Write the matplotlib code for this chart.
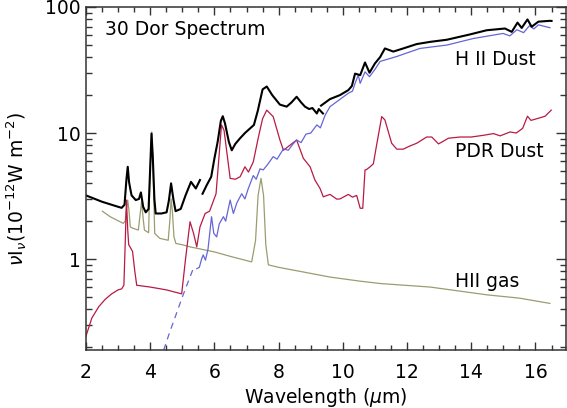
import matplotlib
matplotlib.use("Agg")
import matplotlib.pyplot as plt
from matplotlib.ticker import FixedLocator, LogLocator, MultipleLocator, NullFormatter

# Total spectrum (black), drawn in three pieces (spectral orders)
tot1_x = [2.0, 2.5, 3.0, 3.11, 3.2, 3.26, 3.30, 3.34, 3.38, 3.42, 3.55, 3.65, 3.71, 3.78,
          3.86, 3.95, 3.99, 4.04, 4.08, 4.13, 4.17, 4.35, 4.51, 4.58, 4.65, 4.72, 4.79,
          4.95, 5.1, 5.27, 5.42, 5.55]
tot1_y = [3.2, 2.85, 2.6, 2.55, 2.7, 4.3, 5.4, 4.1, 3.6, 3.2, 2.94, 3.0, 3.38, 2.6,
          2.35, 2.5, 4.6, 9.9, 6.5, 3.0, 2.3, 2.3, 2.35, 2.9, 3.99, 3.0, 2.4,
          2.5, 3.2, 4.1, 3.63, 4.24]
tot2_x = [5.63, 5.76, 5.9, 6.0, 6.1, 6.20, 6.26, 6.33, 6.45, 6.54, 6.65, 6.80, 6.95, 7.06,
          7.23, 7.35, 7.50, 7.63, 7.80, 8.04, 8.25, 8.40, 8.56, 8.70, 8.82, 8.95, 9.05,
          9.19, 9.25, 9.38]
tot2_y = [3.3, 3.86, 4.5, 6.3, 8.5, 12.5, 13.6, 11.9, 8.5, 7.3, 8.2, 9.1, 10.0, 10.6,
          11.6, 15.0, 22.2, 23.4, 20.0, 16.8, 16.2, 17.5, 19.4, 17.5, 16.2, 15.5, 15.8,
          14.3, 15.5, 14.3]
tot3_x = [9.32, 9.6, 9.91, 10.17, 10.28, 10.38, 10.54, 10.69, 10.83, 11.0, 11.16, 11.31,
          11.45, 11.57, 11.88, 12.30, 12.72, 13.24, 13.96, 14.48, 15.05, 15.26, 15.44,
          15.57, 15.75, 15.88, 16.09, 16.45, 16.5]
tot3_y = [16.5, 18.6, 20.0, 21.9, 23.6, 29.6, 28.8, 36.3, 30.1, 35.7, 40.0, 46.9,
          45.5, 44.3, 46.9, 50.8, 52.9, 55.0, 60.6, 65.4, 67.5, 63.5, 75.2,
          68.2, 79.7, 69.7, 76.5, 77.7, 77.5]

# H II dust (blue): dashed extrapolation then measured part
hd_dash_x = [4.42, 4.6, 4.8, 5.0, 5.2, 5.34]
hd_dash_y = [0.19, 0.26, 0.36, 0.50, 0.68, 0.84]
hd_x = [5.45, 5.53, 5.60, 5.65, 5.72, 5.80, 5.91, 5.98, 6.07, 6.15, 6.28, 6.35, 6.49,
        6.59, 6.70, 6.85, 6.95, 7.05, 7.21, 7.30, 7.42, 7.52, 7.65, 7.83, 7.95, 8.15,
        8.30, 8.45, 8.56, 8.70, 8.85, 9.0, 9.19, 9.30, 9.45, 9.6, 9.91, 10.17, 10.30,
        10.38, 10.48, 10.54, 10.69, 10.83, 11.0, 11.16, 11.68, 12.40, 13.24, 14.06,
        14.99, 15.20, 15.42, 15.63, 15.81, 15.95, 16.09, 16.45]
hd_y = [0.84, 0.86, 1.0, 1.08, 0.98, 1.2, 2.17, 1.6, 1.5, 1.9, 2.17, 2.0, 2.94,
        2.3, 2.8, 3.3, 3.0, 3.6, 4.6, 4.3, 5.2, 5.1, 5.6, 6.5, 6.2, 7.5,
        7.3, 8.2, 8.8, 8.4, 9.8, 10.0, 11.6, 11.0, 13.9, 16.2, 18.5, 20.7, 21.5,
        24.8, 28.8, 24.8, 30.6, 28.0, 32.0, 37.0, 40.5, 46.9, 49.9, 56.2,
        61.7, 59.0, 66.0, 62.6, 71.0, 67.0, 72.2, 68.5]

# PDR dust (red)
pdr_x = [2.0, 2.18, 2.4, 2.6, 2.8, 3.0, 3.11, 3.18, 3.22, 3.26, 3.30, 3.33, 3.37, 3.45,
         3.52, 3.58, 4.0, 4.5, 4.98, 5.10, 5.24, 5.35, 5.45, 5.55, 5.71, 5.85, 6.05,
         6.12, 6.22, 6.30, 6.49, 6.65, 6.80, 6.95, 7.06, 7.21, 7.37, 7.50, 7.63, 7.83,
         8.04, 8.15, 8.35, 8.56, 8.77, 8.98, 9.13, 9.29, 9.39, 9.6, 9.81, 9.91, 10.17,
         10.30, 10.43, 10.54, 10.62, 10.69, 10.72, 10.85, 10.95, 11.05, 11.21, 11.31,
         11.52, 11.68, 11.88, 12.09, 12.30, 12.61, 12.77, 12.98, 13.29, 13.65, 14.0,
         14.38, 14.69, 14.9, 15.21, 15.40, 15.6, 15.75, 15.86, 16.09, 16.30, 16.49]
pdr_y = [0.245, 0.34, 0.42, 0.48, 0.53, 0.57, 0.58, 0.62, 1.3, 2.94, 1.7, 1.3, 1.25, 1.15,
         0.8, 0.62, 0.6, 0.57, 0.53, 1.0, 1.98, 1.6, 1.25, 1.8, 2.3, 2.4, 3.3,
         5.5, 11.6, 10.5, 4.37, 4.3, 4.5, 5.4, 4.9, 5.9, 9.3, 13.0, 15.2, 13.5,
         8.8, 7.3, 8.0, 8.8, 6.3, 5.4, 4.24, 3.63, 3.12, 3.26, 2.99, 3.0, 3.26,
         3.1, 3.2, 2.53, 2.53, 5.1, 5.1, 5.4, 5.7, 8.0, 13.5, 12.7,
         8.3, 7.45, 7.45, 7.9, 8.3, 9.3, 9.3, 8.2, 9.1, 9.3, 9.3,
         9.6, 9.9, 9.5, 10.2, 10.0, 10.9, 13.6, 12.6, 13.1, 13.6, 15.2]

# HII gas (olive)
gas_x = [2.51, 2.75, 3.16, 3.22, 3.26, 3.30, 3.34, 3.38, 3.45, 3.63, 3.68, 3.73, 3.78,
         3.82, 3.95, 3.99, 4.05, 4.09, 4.14, 4.30, 4.56, 4.61, 4.65, 4.69, 4.74, 4.80,
         5.0, 5.24, 6.0, 6.5, 7.16, 7.28, 7.36, 7.45, 7.53, 7.60, 7.68, 8.0, 9.0, 9.6,
         10.5, 11.16, 12.72, 14.5, 15.5, 16.45]
gas_y = [2.4, 2.17, 1.92, 2.0, 2.5, 2.94, 2.4, 1.8, 1.76, 1.7, 2.2, 2.85, 2.1,
         1.7, 1.62, 4.5, 10.2, 5.0, 1.6, 1.46, 1.41, 2.0, 3.0, 2.4, 1.5, 1.33,
         1.3, 1.25, 1.14, 1.05, 0.95, 1.4, 3.2, 4.37, 3.2, 1.3, 0.9, 0.86, 0.77, 0.72,
         0.67, 0.64, 0.60, 0.52, 0.49, 0.445]

BLUE = "#6565d8"
RED = "#b81a44"
OLIVE = "#9c9c72"

plt.rcParams["font.family"] = "DejaVu Sans"
plt.rcParams["mathtext.fontset"] = "dejavusans"

fig = plt.figure(figsize=(5.67, 4.08), dpi=100)
ax = fig.add_axes([86 / 567, 1 - 350 / 408, 480 / 567, 343 / 408])

ax.plot(gas_x, gas_y, color=OLIVE, lw=0.9)
ax.plot(pdr_x, pdr_y, color=RED, lw=0.9)
ax.plot(hd_dash_x, hd_dash_y, color=BLUE, lw=0.9, ls=(0, (5, 4)))
ax.plot(hd_x, hd_y, color=BLUE, lw=0.9)
for xs, ys in [(tot1_x, tot1_y), (tot2_x, tot2_y), (tot3_x, tot3_y)]:
    ax.plot(xs, ys, color="black", lw=1.5)

ax.set_yscale("log")
ax.set_xlim(2, 16.95)
ax.set_ylim(0.19, 100)

ax.xaxis.set_major_locator(MultipleLocator(2))
ax.xaxis.set_minor_locator(MultipleLocator(0.5))
ax.yaxis.set_major_locator(FixedLocator([1, 10, 100]))
ax.yaxis.set_minor_locator(LogLocator(base=10, subs=range(2, 10)))
ax.yaxis.set_minor_formatter(NullFormatter())
ax.set_yticklabels(["1", "10", "100"])

ax.tick_params(which="both", direction="in", top=True, right=True,
               labelsize=13.5, color="#333333", width=1.0)
ax.tick_params(axis="x", which="major", length=6, pad=9)
ax.tick_params(axis="x", which="minor", length=3.5)
ax.tick_params(axis="y", which="major", length=7.5, pad=4)
ax.tick_params(axis="y", which="minor", length=4)
for s in ax.spines.values():
    s.set_linewidth(1.1)
    s.set_color("#333333")

ax.set_xlabel(r"Wavelength ($\mu$m)", fontsize=13.5, labelpad=3)
ax.set_ylabel(r"$\nu$I$_\nu$(10$^{-12}$W m$^{-2}$)", fontsize=13.5)
ax.yaxis.set_label_coords(-0.118, 0.47)

ax.text(2.59, 66, "30 Dor Spectrum", fontsize=13.5, ha="left", va="center")
ax.text(13.5, 38, "H II Dust", fontsize=13.5, ha="left", va="center")
ax.text(13.5, 7.2, "PDR Dust", fontsize=13.5, ha="left", va="center")
ax.text(13.5, 0.66, "HII gas", fontsize=13.5, ha="left", va="center")

fig.savefig("out.png", dpi=100)
